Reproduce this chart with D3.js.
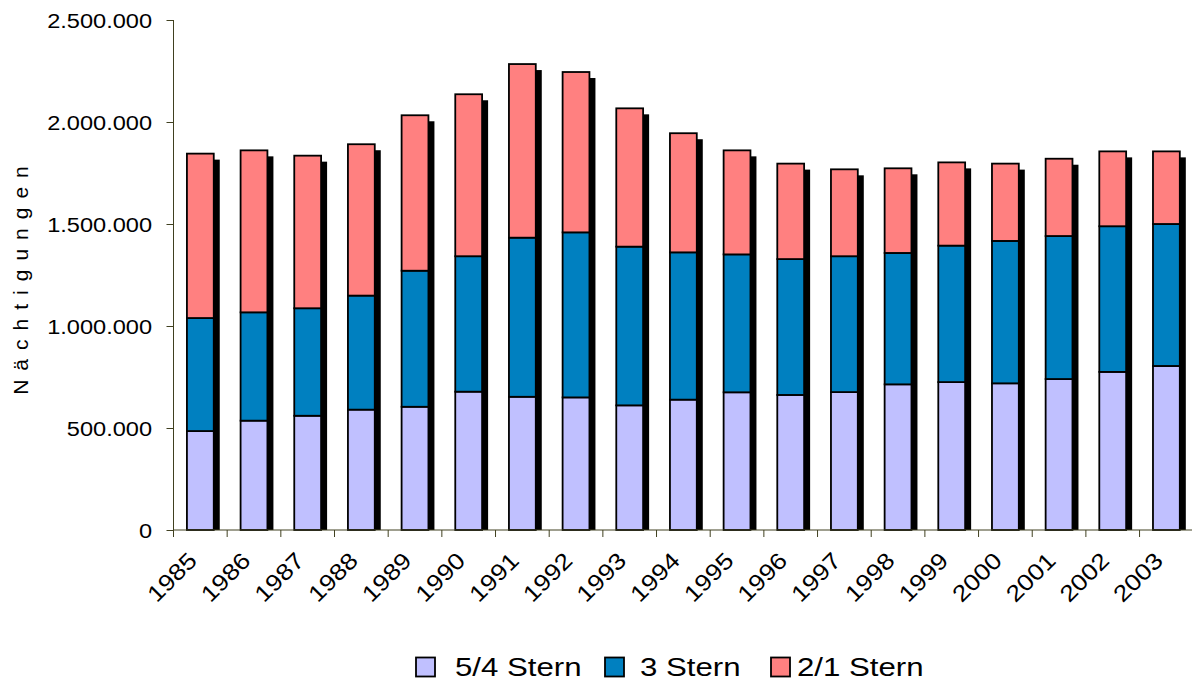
<!DOCTYPE html>
<html>
<head>
<meta charset="utf-8">
<script src="https://cdn.jsdelivr.net/npm/d3@7"></script>
<style>
  html, body { margin: 0; padding: 0; background: #fff; }
  svg { display: block; }
  text { font-family: "Liberation Sans", Arial, sans-serif; fill: #000; }
</style>
</head>
<body>
<svg id="chart" width="1192" height="681"></svg>
<script>
const years = ["1985","1986","1987","1988","1989","1990","1991","1992","1993","1994","1995","1996","1997","1998","1999","2000","2001","2002","2003"];
const stern54 = [485000,536000,560000,590000,604000,678000,653000,650000,611000,639000,675000,662000,676000,714000,725000,719000,740000,775000,804000];
const stern3  = [554000,531000,527000,559000,667000,664000,780000,809000,778000,722000,676000,666000,666000,644000,669000,698000,701000,714000,696000];
const stern21 = [806000,794000,748000,742000,762000,794000,851000,786000,678000,584000,510000,468000,426000,415000,408000,379000,379000,367000,356000];
const seriesNames = ["5/4 Stern","3 Stern","2/1 Stern"];
const seriesColors = ["#C0C0FF","#0080C0","#FF8080"];
const yTicks = [0,500000,1000000,1500000,2000000,2500000];
const yTickLabels = ["0","500.000","1.000.000","1.500.000","2.000.000","2.500.000"];
const yTitle = "Nächtigungen";

const svg = d3.select("#chart");
const x0 = 173.5, yBase = 530, yTop = 20;
const step = 53.67;
const x = d3.scaleBand().domain(years).range([x0, x0 + years.length*step]).paddingInner(0.5).paddingOuter(0.25);
const y = d3.scaleLinear().domain([0, 2500000]).range([yBase, yTop]);

const data = years.map((yr,i)=>({year:yr, "5/4 Stern":stern54[i], "3 Stern":stern3[i], "2/1 Stern":stern21[i]}));
const stack = d3.stack().keys(seriesNames)(data);

const SX = 1.15;
// shadows
const totals = years.map((yr,i)=>stern54[i]+stern3[i]+stern21[i]);
svg.append("g").selectAll("rect").data(years).join("rect")
  .attr("x", d=>x(d)+6)
  .attr("y", (d,i)=>y(totals[i])+6)
  .attr("width", x.bandwidth())
  .attr("height", (d,i)=>yBase - (y(totals[i])+6))
  .attr("fill","#000");

// bars
stack.forEach((s,si)=>{
  svg.append("g").selectAll("rect").data(s).join("rect")
    .attr("x", d=>x(d.data.year))
    .attr("y", d=>y(d[1]))
    .attr("width", x.bandwidth())
    .attr("height", d=>y(d[0])-y(d[1]))
    .attr("fill", seriesColors[si])
    .attr("stroke","#000")
    .attr("stroke-width",1.8);
});

// axes
const axisColor = "#404020";
const yAxis = svg.append("g").attr("transform",`translate(${x0},0)`)
  .call(d3.axisLeft(y).tickValues(yTicks).tickSize(7).tickFormat((d,i)=>""));
yAxis.select(".domain").attr("stroke",axisColor).attr("d",`M-0,${yTop}V${yBase}`);
yAxis.selectAll(".tick line").attr("stroke",axisColor);
yTicks.forEach((t,i)=>{
  svg.append("text")
    .attr("transform",`translate(152,${y(t)+7.5}) scale(${SX},1)`)
    .attr("text-anchor","end")
    .attr("font-size",20.5)
    .text(yTickLabels[i]);
});

const xBounds = years.map((d,i)=>x0 + i*step);
const xAxisG = svg.append("g");
xAxisG.append("line").attr("x1",x0).attr("x2",1192).attr("y1",yBase).attr("y2",yBase).attr("stroke",axisColor);
xAxisG.selectAll("line.t").data(xBounds).join("line").attr("class","t")
  .attr("x1",d=>d).attr("x2",d=>d).attr("y1",yBase).attr("y2",yBase+7).attr("stroke",axisColor);
years.forEach((yr)=>{
  const cx = x(yr) + x.bandwidth()/2;
  svg.append("text")
    .attr("transform",`translate(${cx-2},${yBase+32}) rotate(-45) scale(${SX},1)`)
    .attr("text-anchor","end")
    .attr("font-size",23)
    .text(yr);
});

// y title
svg.append("text")
  .attr("transform","translate(28,276) rotate(-90)")
  .attr("text-anchor","middle")
  .attr("font-size",21)
  .attr("letter-spacing","9px")
  .text(yTitle);

// legend
const legX = [416, 605, 771];
const legTX = [455, 640, 797];
seriesNames.forEach((n,i)=>{
  svg.append("rect").attr("x",legX[i]).attr("y",657.5).attr("width",19).attr("height",19)
    .attr("fill",seriesColors[i]).attr("stroke","#000").attr("stroke-width",1.8);
  svg.append("text")
    .attr("transform",`translate(${legTX[i]},675.5) scale(1.2,1)`)
    .attr("font-size",26)
    .text(n);
});
</script>
</body>
</html>
